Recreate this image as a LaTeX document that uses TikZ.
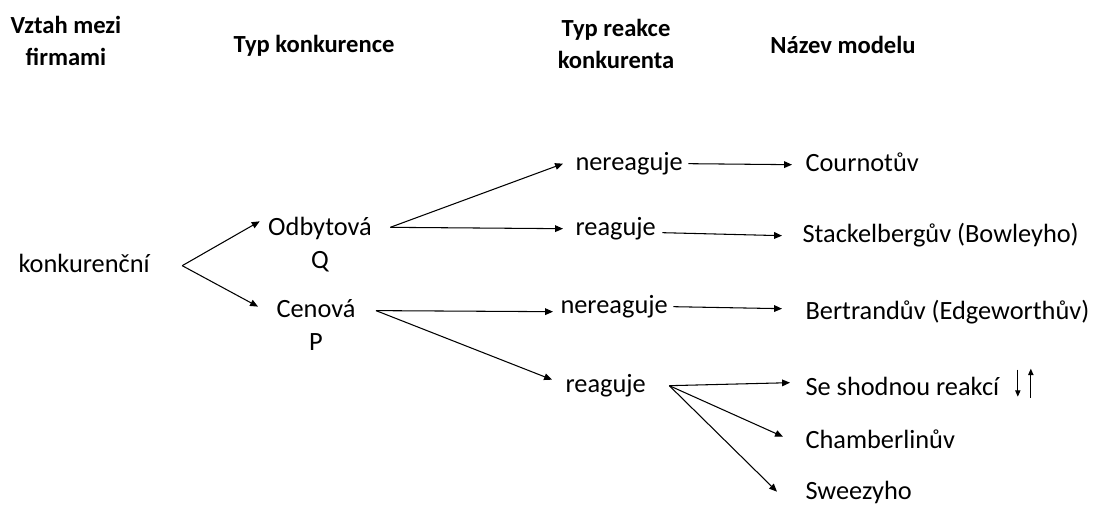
\documentclass[tikz,border=0pt]{standalone}
\usepackage{fontspec}
\setmainfont{Carlito}
\usetikzlibrary{arrows.meta}

\begin{document}
\begin{tikzpicture}[%
    x=0.02cm, y=-0.02cm,
    >={Triangle[length=4.5pt,width=3.8pt]},
    line width=0.6pt,
    txt/.style={font=\fontsize{15}{18.7}\selectfont, inner sep=0pt,
        text height=10.2pt, text depth=3pt, anchor=base west},
    multi/.style={font=\fontsize{15}{18.7}\selectfont, inner sep=0pt,
        align=center, anchor=base},
    head/.style={font=\bfseries\fontsize{14}{17.8}\selectfont, inner sep=0pt,
        align=center, anchor=base},
    small/.style={->, >={Triangle[length=3.6pt,width=3pt]}}
    ]
    \useasboundingbox (0,0) rectangle (1098,504);

    \node[head] (firmy) at (66,65) {Vztah mezi\\firmami};
    \node[head] (typk)  at (314,52) {Typ konkurence};
    \node[head] (typr)  at (616,68) {Typ reakce\\konkurenta};
    \node[head] (model) at (843,53) {Název modelu};

    \node[txt] (konk) at (18,272) {konkurenční};
    \node[multi] (odb) at (320,268) {Odbytová\\Q};
    \node[multi] (cen) at (316,350) {Cenová\\P};

    \node[txt] (ner1) at (575,170) {nereaguje};
    \node[txt] (rea1) at (575,235) {reaguje};
    \node[txt] (ner2) at (560,313) {nereaguje};
    \node[txt] (rea2) at (565,392) {reaguje};

    \node[txt] (cour)  at (805,171) {Cournotův};
    \node[txt] (stack) at (802,242) {Stackelbergův (Bowleyho)};
    \node[txt] (bert)  at (805,319) {Bertrandův (Edgeworthův)};
    \node[txt] (shod)  at (805,395) {Se shodnou reakcí};
    \node[txt] (cham)  at (805,448) {Chamberlinův};
    \node[txt] (swe)   at (805,499) {Sweezyho};

    \coordinate (kv) at ([shift={(32,0)}]konk.east);
    \coordinate (ov) at ([shift={(18,11)}]odb.north east);
    \coordinate (cv) at ([shift={(20,12)}]cen.north east);
    \coordinate (rv) at ([shift={(23,0)}]rea2.east);

    \draw[->] (kv) -- ([shift={(-8,5)}]odb.north west);
    \draw[->] (kv) -- ([shift={(-18,8)}]cen.north west);

    \draw[->] (ov) -- ([shift={(-12,0)}]ner1.west);
    \draw[->] (ov) -- ([shift={(-12,0)}]rea1.west);
    \draw[->] (cv) -- ([shift={(-7,5)}]ner2.west);
    \draw[->] (cv) -- ([shift={(-13,-6)}]rea2.west);

    \draw[->] ([shift={(5,0)}]ner1.east) -- ([shift={(-13,0)}]cour.west);
    \draw[->] ([shift={(6,4)}]rea1.east) -- ([shift={(-20,0)}]stack.west);
    \draw[->] ([shift={(5,0)}]ner2.east) -- ([shift={(-23,-4)}]bert.west);

    \draw[->] (rv) -- ([shift={(-15,-6)}]shod.west);
    \draw[->] (rv) -- ([shift={(-22,-5)}]cham.west);
    \draw[->] (rv) -- ([shift={(-28,-1)}]swe.west);

    \draw[small] ([shift={(18,-19)}]shod.east) -- ([shift={(18,8)}]shod.east);
    \draw[small] ([shift={(31,9)}]shod.east) -- ([shift={(31,-20)}]shod.east);
\end{tikzpicture}
\end{document}
